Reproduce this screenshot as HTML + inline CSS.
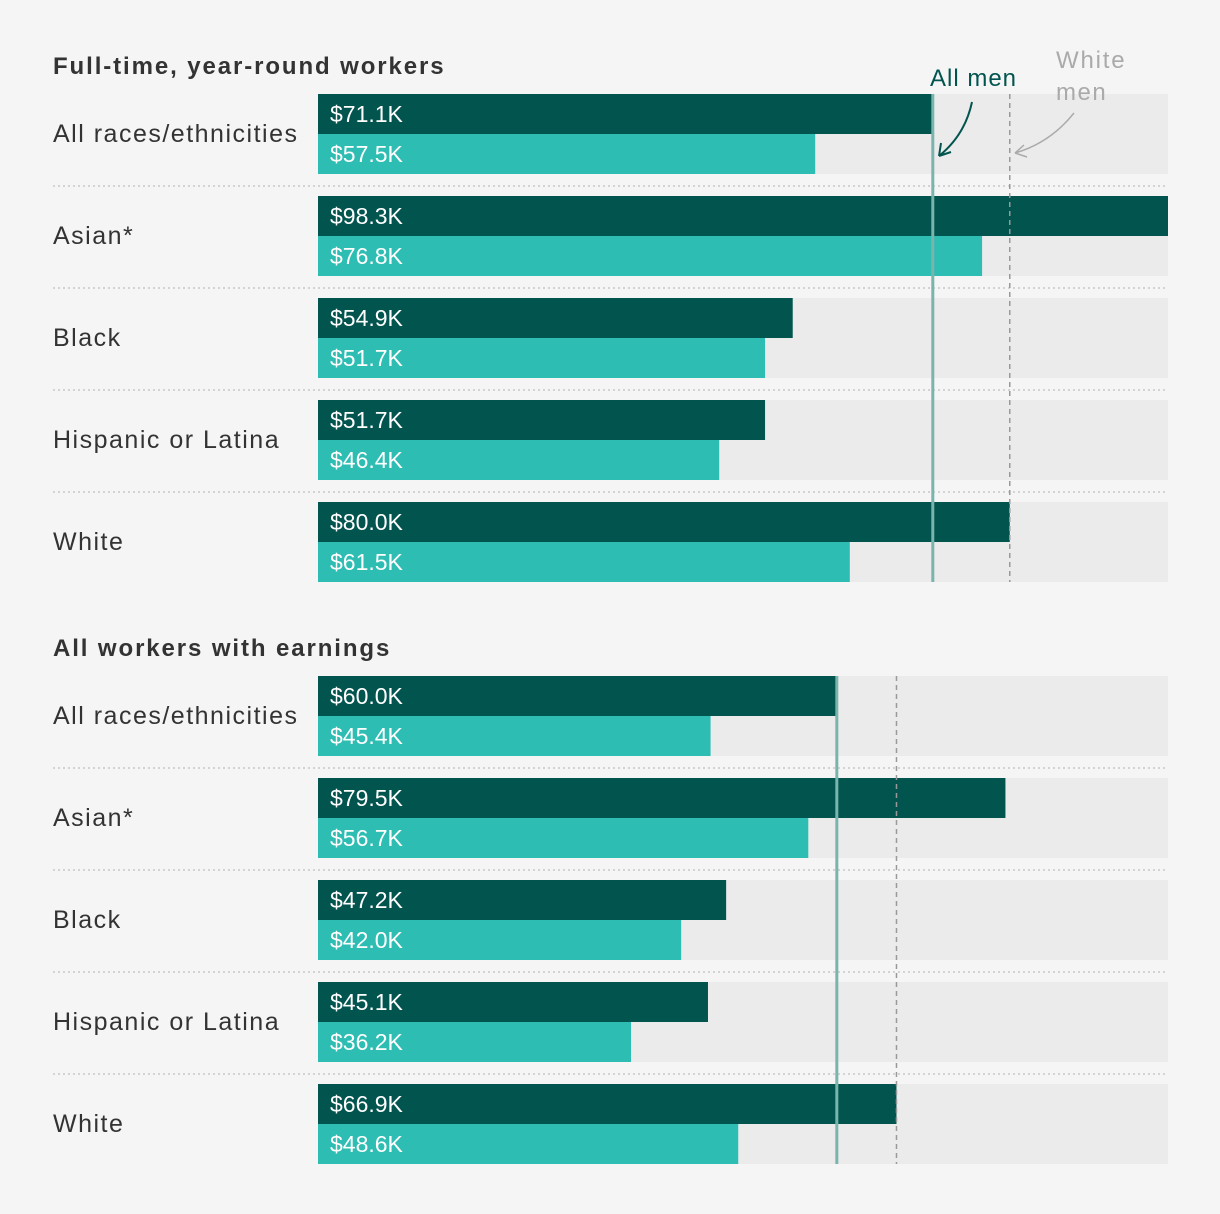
<!DOCTYPE html>
<html><head><meta charset="utf-8"><style>
html,body{margin:0;padding:0;background:#f5f5f5;}
svg{display:block;font-family:"Liberation Sans",sans-serif;}
</style></head><body>
<svg id="chart" width="1220" height="1214" viewBox="0 0 1220 1214"></svg>
<script>
const categories = ["All races/ethnicities","Asian*","Black","Hispanic or Latina","White"];
const sectionTitles = ["Full-time, year-round workers","All workers with earnings"];
const menFT = [71.1,98.3,54.9,51.7,80.0];
const womenFT = [57.5,76.8,51.7,46.4,61.5];
const menAll = [60.0,79.5,47.2,45.1,66.9];
const womenAll = [45.4,56.7,42.0,36.2,48.6];
const refAllMen = [71.1,60.0];
const refWhiteMen = [80.0,66.9];
const maxVal = 98.3;

const NS="http://www.w3.org/2000/svg";
const svg=document.getElementById('chart');
const x0=318, x1=1168;
const xs=v=>x0+(v/maxVal)*(x1-x0);
function el(tag,attrs,parent){const e=document.createElementNS(NS,tag);for(const k in attrs)e.setAttribute(k,attrs[k]);(parent||svg).appendChild(e);return e;}
const sections=[{men:menFT,women:womenFT,top:94,title:65},{men:menAll,women:womenAll,top:676,title:647}];
sections.forEach((s,si)=>{
  const t=el('text',{x:53,y:s.title+9,'font-size':24,'font-weight':'bold',fill:'#333','letter-spacing':1.9});
  t.textContent=sectionTitles[si];
  
  
  categories.forEach((c,i)=>{
    const y=s.top+i*102;
    const bg=el('rect',{x:x0,y:y,width:x1-x0,height:80,fill:'#ebebeb'});
    
    
    if(i>0){const sep=el('line',{x1:53,x2:x1,y1:y-10,y2:y-10,stroke:'#c8c8c8','stroke-width':1.5,'stroke-dasharray':'2,3'});
      
      }
    const lb=el('text',{x:53,y:y+48,'font-size':25,fill:'#333','letter-spacing':1.5});
    lb.textContent=c;
    
    
    const bm=el('rect',{x:x0,y:y,width:xs(s.men[i])-x0,height:40,fill:'#02544f'});
    
    
    const bw=el('rect',{x:x0,y:y+40,width:xs(s.women[i])-x0,height:40,fill:'#2ebdb3'});
    
    
    const tm=el('text',{x:330,y:y+28,'font-size':23,fill:'#fff'});
    tm.textContent='$'+s.men[i].toFixed(1)+'K';
    
    
    const tw=el('text',{x:330,y:y+68,'font-size':23,fill:'#fff'});
    tw.textContent='$'+s.women[i].toFixed(1)+'K';
    
    
  });
  const yb=s.top+4*102+80;
  const am=el('line',{x1:xs(refAllMen[si]),x2:xs(refAllMen[si]),y1:s.top,y2:yb,stroke:'#7ab5ad','stroke-width':3});
  
  
  const wm=el('line',{x1:xs(refWhiteMen[si]),x2:xs(refWhiteMen[si]),y1:s.top,y2:yb,stroke:'#999','stroke-width':1.5,'stroke-dasharray':'5,4'});
  
  
});
const a1=el('text',{x:930,y:86,'font-size':24,fill:'#02544f','letter-spacing':1});a1.textContent='All men';


const a2=el('text',{x:1056,y:68,'font-size':24,fill:'#aaa','letter-spacing':1.8});a2.textContent='White';


const a3=el('text',{x:1056,y:100,'font-size':24,fill:'#aaa','letter-spacing':1.5});a3.textContent='men';


const ar1=el('path',{d:'M972,102 Q965,135 939,156 M939,156 L941,143 M939,156 L951,152',stroke:'#02544f','stroke-width':2,fill:'none'});


const ar2=el('path',{d:'M1074,113 Q1050,143 1015,153 M1015,153 L1024,145 M1015,153 L1027,157',stroke:'#aaa','stroke-width':1.5,fill:'none'});


</script>
</body></html>
